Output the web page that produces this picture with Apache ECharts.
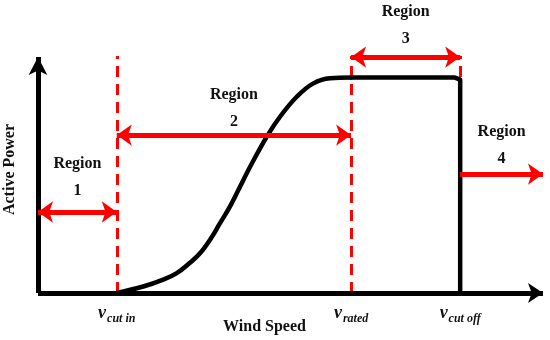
<!DOCTYPE html>
<html><head><meta charset="utf-8">
<script src="https://cdn.jsdelivr.net/npm/echarts@6/dist/echarts.min.js"></script>
<style>html,body{margin:0;padding:0;background:#fff}#c{width:550px;height:340px}</style>
</head><body><div id="c"></div>
<script>
// Wind speed markers (x axis, arbitrary m/s-like units)
const vCutIn = 3.9;
const vRated = 15.5;
const vCutOff = 20.9;
const xMax = 25;
const yMax = 1.1;
const yAxisTip = 1.095;
// tick labels
const tickValues = [vCutIn, vRated, vCutOff];
const tickMain = ['v', 'v', 'v'];
const tickSub = ['cut in', 'rated', 'cut off'];
// power curve: ramp region (wind speed, power)
const rampSpeed = [3.9, 5.21, 6.20, 6.87, 7.52, 8.02, 8.51, 9.01, 9.50, 10.0, 10.50, 11.32, 11.98, 12.81, 13.63, 14.46, 15.5];
const rampPower = [0.0, 0.030, 0.062, 0.092, 0.140, 0.184, 0.246, 0.324, 0.401, 0.493, 0.586, 0.725, 0.818, 0.911, 0.973, 0.997, 1.0];
// plateau and cut-off drop
const plateauSpeed = [15.5, 20.64, 20.9, 20.9];
const plateauPower = [1.0, 1.0, 0.99, 0.0];
// region arrows
const regionNames = ['Region\n1', 'Region\n2', 'Region\n3', 'Region\n4'];
const regionFrom = [0, vCutIn, vRated, vCutOff];
const regionTo = [vCutIn, vRated, vCutOff, xMax];
const regionLevel = [0.376, 0.733, 1.095, 0.552];
const regionDoubleHead = [true, true, true, false];

const serif = 'Liberation Serif';
const red = '#ff0000';

const chart = echarts.init(document.getElementById('c'), null, {renderer: 'canvas'});

const labelGap = [8, 0, 5, 2];
const regionLines = regionNames.map((n, i) => [
  {coord: [regionFrom[i], regionLevel[i]], symbol: regionDoubleHead[i] ? 'arrow' : 'none',
   label: {show: true, position: 'middle', formatter: n, distance: labelGap[i],
     fontFamily: serif, fontWeight: 'bold', fontSize: 16, lineHeight: 27, color: '#111'}},
  {coord: [regionTo[i], regionLevel[i]], symbol: 'arrow'}
]);

chart.setOption({
  animation: false,
  grid: {left: 38, right: 7, top: 56, bottom: 47, containLabel: false, outerBoundsMode: 'none'},
  xAxis: {
    type: 'value', min: 0, max: xMax,
    name: 'Wind Speed', nameLocation: 'middle', nameGap: 26, nameMoveOverlap: false,
    nameTextStyle: {fontFamily: serif, fontWeight: 'bold', fontSize: 16, color: '#111', padding: [0, 52, 0, 0]},
    splitLine: {show: false},
    axisTick: {show: false},
    axisLine: {show: false},
    axisLabel: {
      customValues: tickValues, margin: 9,
      formatter: v => { const i = tickValues.indexOf(v); return i < 0 ? '' : '{v|' + tickMain[i] + '}{s|' + tickSub[i] + '}'; },
      rich: {
        v: {fontFamily: serif, fontStyle: 'italic', fontWeight: 'bold', fontSize: 18, color: '#111', lineHeight: 20, verticalAlign: 'bottom'},
        s: {fontFamily: serif, fontStyle: 'italic', fontWeight: 'bold', fontSize: 12, color: '#111', lineHeight: 12, verticalAlign: 'bottom', padding: [0, 0, -3, 1]}
      }
    }
  },
  yAxis: {
    type: 'value', min: 0, max: yMax,
    name: 'Active Power', nameLocation: 'middle', nameGap: 20, nameMoveOverlap: false,
    nameTextStyle: {fontFamily: serif, fontWeight: 'bold', fontSize: 16, color: '#111', padding: [0, 0, 0, 10]},
    splitLine: {show: false},
    axisTick: {show: false},
    axisLabel: {show: false},
    axisLine: {show: false}
  },
  series: [
    {
      type: 'line', silent: true, symbol: 'none', z: 1,
      data: [],
      markLine: {
        silent: true, symbol: 'none', animation: false, z: 1,
        lineStyle: {color: red, width: 3, type: [11, 7]},
        label: {show: false},
        data: [
          [{coord: [vCutIn, 0]}, {coord: [vCutIn, yMax]}],
          [{coord: [vRated, 0]}, {coord: [vRated, yMax]}],
          [{coord: [vCutOff, 0]}, {coord: [vCutOff, yMax]}]
        ]
      }
    },
    {
      type: 'line', silent: true, symbol: 'none', smooth: 0.4, z: 3,
      lineStyle: {color: '#000', width: 4.5, cap: 'round', join: 'round'},
      data: rampSpeed.map((x, i) => [x, rampPower[i]])
    },
    {
      type: 'line', silent: true, symbol: 'none', z: 3,
      lineStyle: {color: '#000', width: 4.5, cap: 'round', join: 'round'},
      data: plateauSpeed.map((x, i) => [x, plateauPower[i]])
    },
    {
      type: 'line', silent: true, symbol: 'none', z: 4, data: [],
      markLine: {
        silent: true, animation: false, z: 4,
        symbol: ['none', 'arrow'], symbolSize: [16, 15],
        lineStyle: {color: '#000', width: 5, type: 'solid', cap: 'butt'},
        label: {show: false},
        data: [
          [{coord: [0, 0]}, {coord: [xMax, 0], symbolSize: [15, 15]}],
          [{coord: [0, 0]}, {coord: [0, yAxisTip], symbolSize: [14, 18]}]
        ]
      }
    },
    {
      type: 'line', silent: true, symbol: 'none', z: 5, data: [],
      markLine: {
        silent: true, animation: false, z: 6,
        symbolSize: [16, 15],
        lineStyle: {color: red, width: 5, type: 'solid'},
        data: regionLines
      }
    }
  ]
});
</script></body></html>
